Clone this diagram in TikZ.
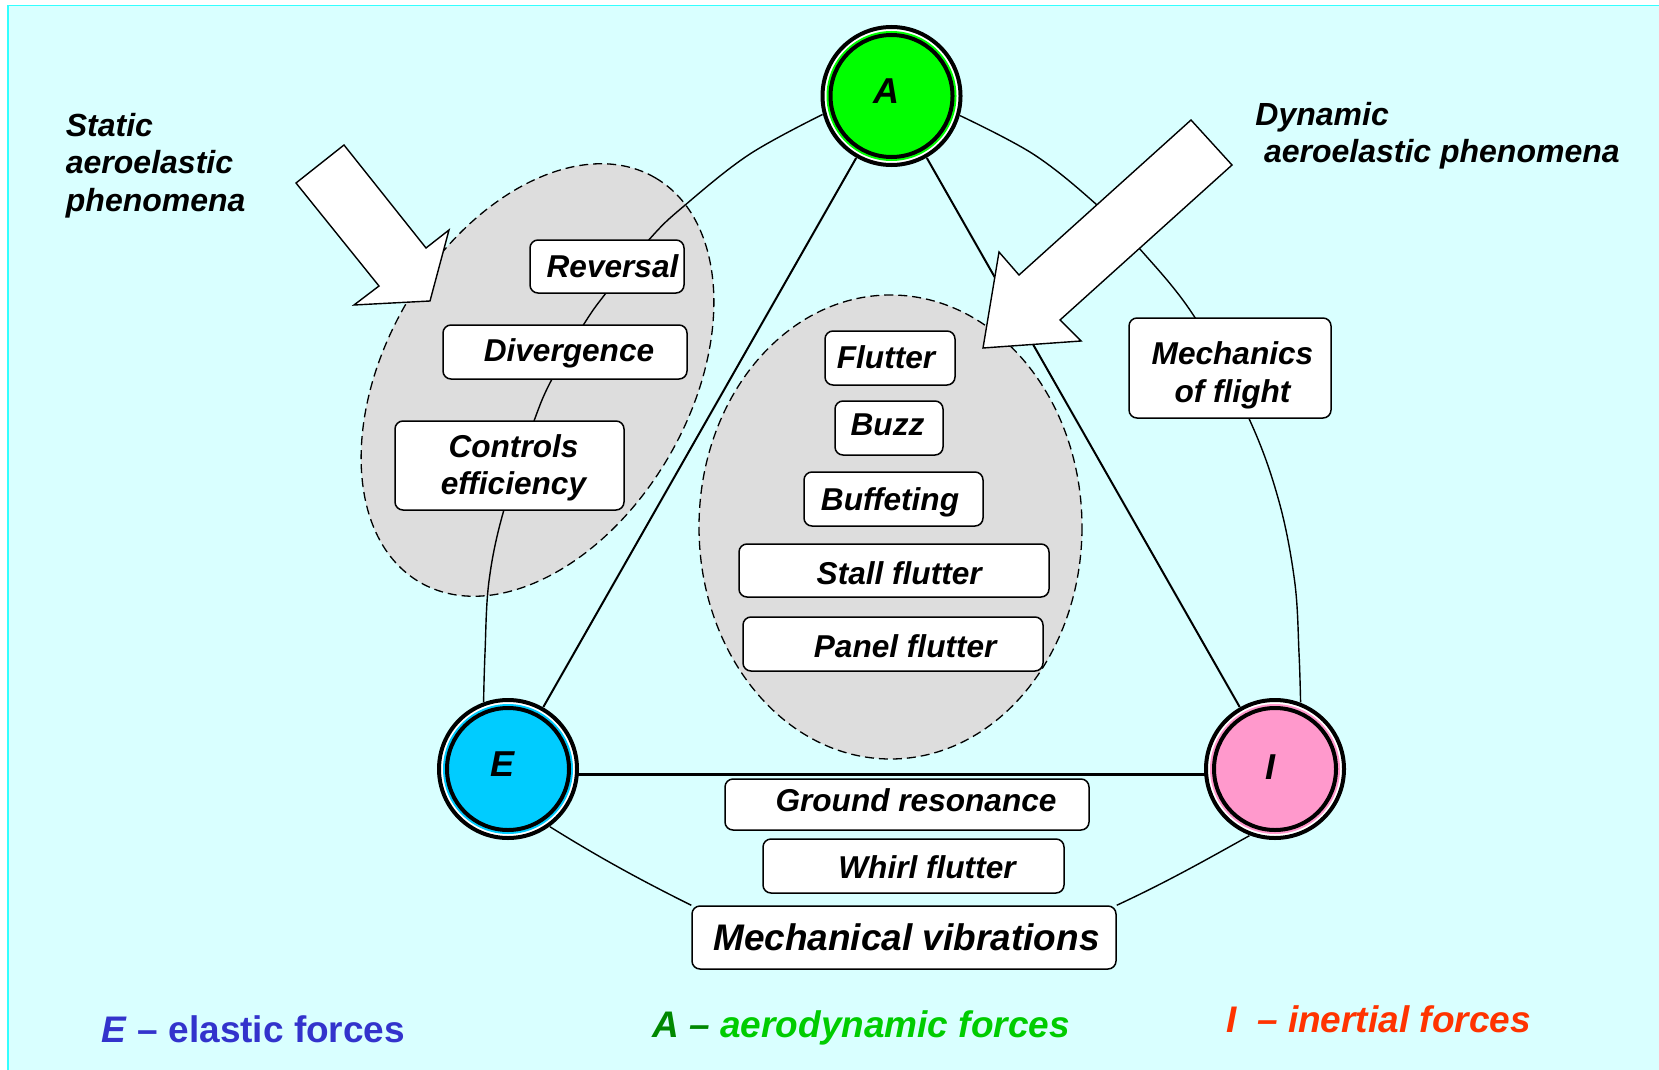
\documentclass[tikz,border=0pt]{standalone}
\usepackage{fontspec}
\setmainfont{Liberation Sans}
\definecolor{bgc}{RGB}{217,255,255}
\definecolor{framec}{RGB}{51,255,255}
\definecolor{ellc}{RGB}{221,221,221}
\definecolor{Acol}{RGB}{0,255,0}
\definecolor{Ecol}{RGB}{0,204,255}
\definecolor{Icol}{RGB}{255,153,204}
\definecolor{Eleg}{RGB}{51,51,204}
\definecolor{Adark}{RGB}{0,136,0}
\definecolor{Agreen}{RGB}{0,204,0}
\definecolor{Ileg}{RGB}{255,51,0}
\pgfdeclarelayer{back}
\pgfdeclarelayer{mid}
\pgfsetlayers{back,mid,main}
\newcommand\forcering[2]{%
  \draw[line width=2pt, fill=white] (#1) circle[radius=69];
  \fill[#2] (#1) circle[radius=65];
  \draw[line width=2pt, fill=#2] (#1) circle[radius=61];}
\begin{document}
\begin{tikzpicture}[x=0.5pt, y=-0.5pt,
  bx/.style 2 args={minimum width=#1*0.5pt, minimum height=#2*0.5pt},
  tbox/.style={draw=black, line width=0.75pt, fill=white, rounded corners=4pt,
    inner sep=0pt, font=\bfseries\itshape\fontsize{15.8}{18.8}\selectfont,
    text height=12pt, text depth=0.7pt},
  bigbox/.style={tbox, font=\bfseries\itshape\fontsize{18.5}{22}\selectfont,
    text height=14pt, text depth=0.8pt},
  force/.style={circle, inner sep=0pt, minimum size=71pt,
    font=\bfseries\itshape\fontsize{18}{21}\selectfont, text height=13pt, text depth=0pt},
  caption/.style={anchor=base west, inner sep=0pt, align=left},
  legend/.style={anchor=base west, inner sep=0pt},
  gell/.style={draw=black, line width=0.65pt, fill=ellc, dash pattern=on 4.5pt off 2.5pt},
  arc/.style={draw=black, line width=0.7pt},
  tri/.style={draw=black, line width=1pt},
  eiline/.style={draw=black, line width=1.2pt},
  blockarrow/.style={draw=black, line width=0.7pt, fill=white, line join=miter}
]
\useasboundingbox (0,0) rectangle (1659,1070);

% ---- force circles
\node[force] (A) at (891.5,96) {\hspace*{-5pt}\raisebox{2.5pt}{A}};
\node[force] (E) at (508,769) {\hspace*{-5.5pt}\raisebox{2.7pt}{E}};
\node[force] (I) at (1275,769) {\hspace*{-5pt}\raisebox{1.5pt}{I}};

% ---- phenomenon boxes
\node[tbox, bx={154}{53}] (Rev) at (607,266.5) {\hspace*{5.5pt}Reversal};
\node[tbox, bx={244}{54}] (Div) at (565,352) {\hspace*{4pt}\raisebox{0.9pt}{Divergence}};
\node[tbox, bx={229}{89}, text height=29.1pt, text depth=0pt] (Ctrl) at (509.5,465.5)
  {\hspace*{4pt}\begin{tabular}[b]{@{}c@{}}Controls\\efficiency\end{tabular}};
\node[tbox, bx={202}{100}, text height=34pt, text depth=0pt] (MF) at (1230,368)
  {\hspace*{2.5pt}\begin{tabular}[b]{@{}c@{}}Mechanics\\of flight\end{tabular}};
\node[tbox, bx={130}{54}] (Flu) at (890,358) {\hspace*{-4pt}\raisebox{0.65pt}{Flutter}};
\node[tbox, bx={108}{54}] (Buzz) at (889,428) {\hspace*{-1.5pt}\raisebox{2pt}{Buzz}};
\node[tbox, bx={179}{54}] (Buf) at (893.5,499) {\hspace*{-3.5pt}Buffeting};
\node[tbox, bx={310}{53}] (Stall) at (894,570.5) {\hspace*{5.2pt}\raisebox{-1.5pt}{Stall flutter}};
\node[tbox, bx={300}{54}] (Panel) at (893,644) {\hspace*{12.2pt}\raisebox{-1pt}{Panel flutter}};
\node[tbox, bx={364}{51}] (Ground) at (907,804.5) {\hspace*{9pt}\raisebox{2.25pt}{Ground resonance}};
\node[tbox, bx={301}{54}] (Whirl) at (913.5,866) {\hspace*{13.5pt}\raisebox{-0.75pt}{Whirl flutter}};
\node[bigbox, bx={424}{63}] (MV) at (904,937.5) {\hspace*{2.5pt}Mechanical vibrations};

% ---- captions
\node[caption, font=\bfseries\itshape\fontsize{16}{18.75}\selectfont] (static) at (65.5,136)
  {\begin{tabular}[t]{@{}l@{}}Static\\aeroelastic\\phenomena\end{tabular}};
\node[caption, font=\bfseries\itshape\fontsize{16}{18.15}\selectfont] (dynamic) at (1255,126)
  {\begin{tabular}[t]{@{}l@{}}Dynamic\\\hspace*{4.3pt}aeroelastic phenomena\end{tabular}};

% ---- legend
\node[legend, font=\bfseries\fontsize{18.5}{22}\selectfont, text=Eleg] (legE) at (101.5,1042)
  {\textit{E} – elastic forces};
\node[legend, font=\bfseries\itshape\fontsize{18.5}{22}\selectfont] (legA) at (652,1037)
  {\textcolor{Adark}{A –} \textcolor{Agreen}{aerodynamic forces}};
\node[legend, font=\bfseries\itshape\fontsize{18.5}{22}\selectfont, text=Ileg] (legI) at (1226,1032.7)
  {I~~– inertial forces};

\begin{pgfonlayer}{back}
  \fill[white] (0,0) rectangle (1659,1070);
  \fill[bgc] (8,5.7) rectangle (1659,1070);
  \draw[framec, line width=0.8pt] (8,1070) -- (8,5.7) -- (1659,5.7);
  % phenomenon groups
  \draw[gell, rotate around={59.8:(537.5,380)}] (537.5,380) ellipse [x radius=234, y radius=152];
  \draw[gell] (890.5,527) ellipse [x radius=191.5, y radius=232];
  % connectors
  \draw[arc] plot[smooth, tension=0.6] coordinates {(A.195) (749,154.6) (684,206) (651,237.5)
     (606,293) (584,324) (552,379) (534,421) (503.6,511) (489,581) (485,653) (E.110)};
  \draw[arc] plot[smooth, tension=0.6] coordinates {(A.-16) (1034,154.6) (1097,205) (1139,248)
     (1194.6,317) (1249,418.6) (1278.6,500) (1294.6,581) (1299,653) (I.69)};
  \draw[arc] (E.-54) .. controls (601,858.6) and (642.5,881) .. (MV.north west);
  \draw[arc] (MV.north east) .. controls (1165.7,882.5) and (1203,861.6) .. (I.249);
  \draw[tri] (A) -- (E);
  \draw[tri] (A) -- (I);
  \draw[eiline] ([yshift=-2.75pt]E.center) -- ([yshift=-2.75pt]I.center);
\end{pgfonlayer}

\begin{pgfonlayer}{mid}
  \draw[blockarrow] (296,183) -- (344,145) -- (426,248) -- (449,230) -- (430,301)
     -- (354,305) -- (379,286) -- cycle;
  \draw[blockarrow] (1191,120) -- (1232,165) -- (1060,320) -- (1081,341) -- (983,348)
     -- (999,252) -- (1019,275) -- cycle;
  \forcering{A}{Acol}
  \forcering{E}{Ecol}
  \forcering{I}{Icol}
\end{pgfonlayer}
\end{tikzpicture}
\end{document}
